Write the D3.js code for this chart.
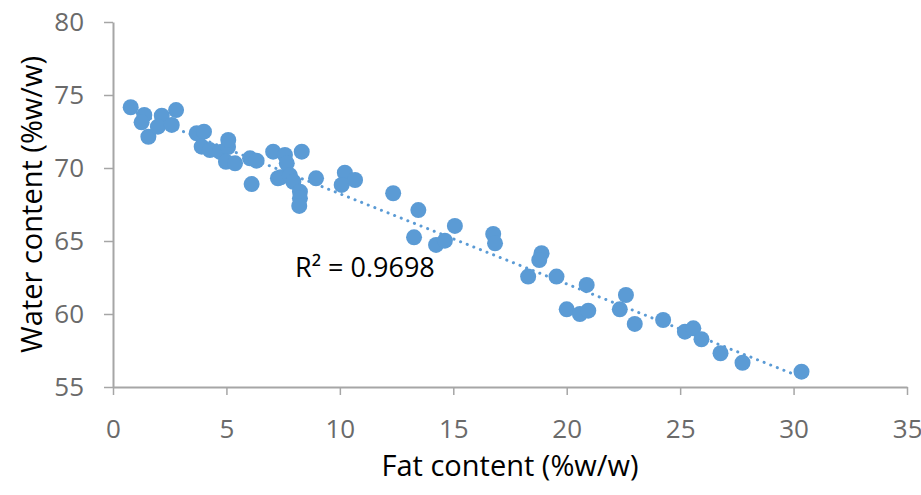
<!DOCTYPE html>
<html>
<head>
<meta charset="utf-8">
<script src="https://cdn.jsdelivr.net/npm/d3@7"></script>
<style>
  body { margin: 0; background: #fff; }
  svg { display: block; font-family: "Open Sans", sans-serif; }
</style>
</head>
<body>
<div id="chart"></div>
<script>
// fat content (%w/w) per sample
const fat = [0.78, 1.38, 1.26, 1.56, 2.15, 1.98, 2.59, 2.78, 3.69, 4.01, 3.91, 4.27, 4.72, 5.07, 5.08,
  4.98, 5.38, 6.04, 6.33, 7.06, 6.11, 7.27, 7.58, 8.32, 7.66, 7.39, 7.8, 7.95, 8.24, 8.24, 8.21, 8.95,
  10.22, 10.08, 10.67, 12.35, 13.46, 13.27, 14.24, 14.63, 15.07, 16.76, 16.84, 18.89, 18.79, 18.3,
  19.55, 20.88, 20.0, 20.58, 20.95, 22.61, 22.34, 23.0, 24.25, 25.21, 25.58, 25.94, 26.78, 27.75, 30.35]
// water content (%w/w) per sample
const water = [74.16, 73.63, 73.13, 72.14, 73.58, 72.83, 72.95, 73.97, 72.38, 72.49, 71.46, 71.23, 71.1, 71.44, 71.92,
  70.43, 70.32, 70.66, 70.5, 71.12, 68.9, 69.3, 70.89, 71.12, 70.32, 69.36, 69.5, 69.06, 68.38, 67.92, 67.4, 69.29,
  69.68, 68.84, 69.18, 68.27, 67.12, 65.25, 64.73, 65.02, 66.03, 65.48, 64.84, 64.16, 63.7, 62.56,
  62.56, 61.99, 60.32, 60.0, 60.23, 61.3, 60.32, 59.32, 59.59, 58.79, 59.02, 58.27, 57.31, 56.66, 56.05]
const xTicks = [0, 5, 10, 15, 20, 25, 30, 35]
const yTicks = [55, 60, 65, 70, 75, 80]
const r2Label = "R² = 0.9698"

const W = 921, H = 495
const m = {left: 113, right: 14, top: 22, bottom: 108}

const svg = d3.select("#chart").append("svg").attr("width", W).attr("height", H)

const x = d3.scaleLinear().domain([0, 35]).range([m.left, W - m.right])
const y = d3.scaleLinear().domain([55, 80]).range([H - m.bottom, m.top])

const axisColor = "#a6a6a6"

const xAxis = svg.append("g").attr("transform", `translate(0,${H - m.bottom})`)
  .call(d3.axisBottom(x).tickValues(xTicks).tickSize(8).tickPadding(25).tickSizeOuter(0))
const yAxis = svg.append("g").attr("transform", `translate(${m.left},0)`)
  .call(d3.axisLeft(y).tickValues(yTicks).tickSize(9).tickPadding(20).tickSizeOuter(0))

for (const g of [xAxis, yAxis]) {
  g.select(".domain").attr("stroke", axisColor).attr("stroke-width", 2)
  g.selectAll(".tick line").attr("stroke", axisColor).attr("stroke-width", 1.5)
  g.selectAll(".tick text").attr("fill", "#6a6a6a").style("font-size", "26px")
    .style("font-family", "'Open Sans', sans-serif")
}
// keep the last x label inside the window
xAxis.selectAll(".tick text").filter(d => d === 35).attr("text-anchor", "end").attr("x", 15)

// linear trendline from least squares
const n = fat.length
const mx = d3.mean(fat), my = d3.mean(water)
let sxy = 0, sxx = 0
for (let i = 0; i < n; i++) { sxy += (fat[i] - mx) * (water[i] - my); sxx += (fat[i] - mx) ** 2 }
const slope = sxy / sxx, icpt = my - slope * mx
const [x0, x1] = d3.extent(fat)

svg.append("line")
  .attr("x1", x(x0)).attr("y1", y(icpt + slope * x0))
  .attr("x2", x(x1)).attr("y2", y(icpt + slope * x1))
  .attr("stroke", "#5b9bd5").attr("stroke-width", 3)
  .attr("stroke-linecap", "round").attr("stroke-dasharray", "0.1 7")

svg.append("g").selectAll("circle")
  .data(fat.map((f, i) => [f, water[i]]))
  .join("circle")
  .attr("cx", d => x(d[0])).attr("cy", d => y(d[1])).attr("r", 8)
  .attr("fill", "#5b9bd5")

svg.append("text").attr("x", 295).attr("y", 277)
  .style("font-size", "27px").attr("fill", "#000").text(r2Label)

svg.append("text").attr("x", (m.left + W - m.right) / 2).attr("y", 476)
  .attr("text-anchor", "middle").style("font-size", "29px").attr("fill", "#000")
  .text("Fat content (%w/w)")

svg.append("text").attr("transform", `translate(42,${(m.top + H - m.bottom) / 2}) rotate(-90)`)
  .attr("text-anchor", "middle").style("font-size", "29px").attr("fill", "#000")
  .text("Water content (%w/w)")
</script>
</body>
</html>
